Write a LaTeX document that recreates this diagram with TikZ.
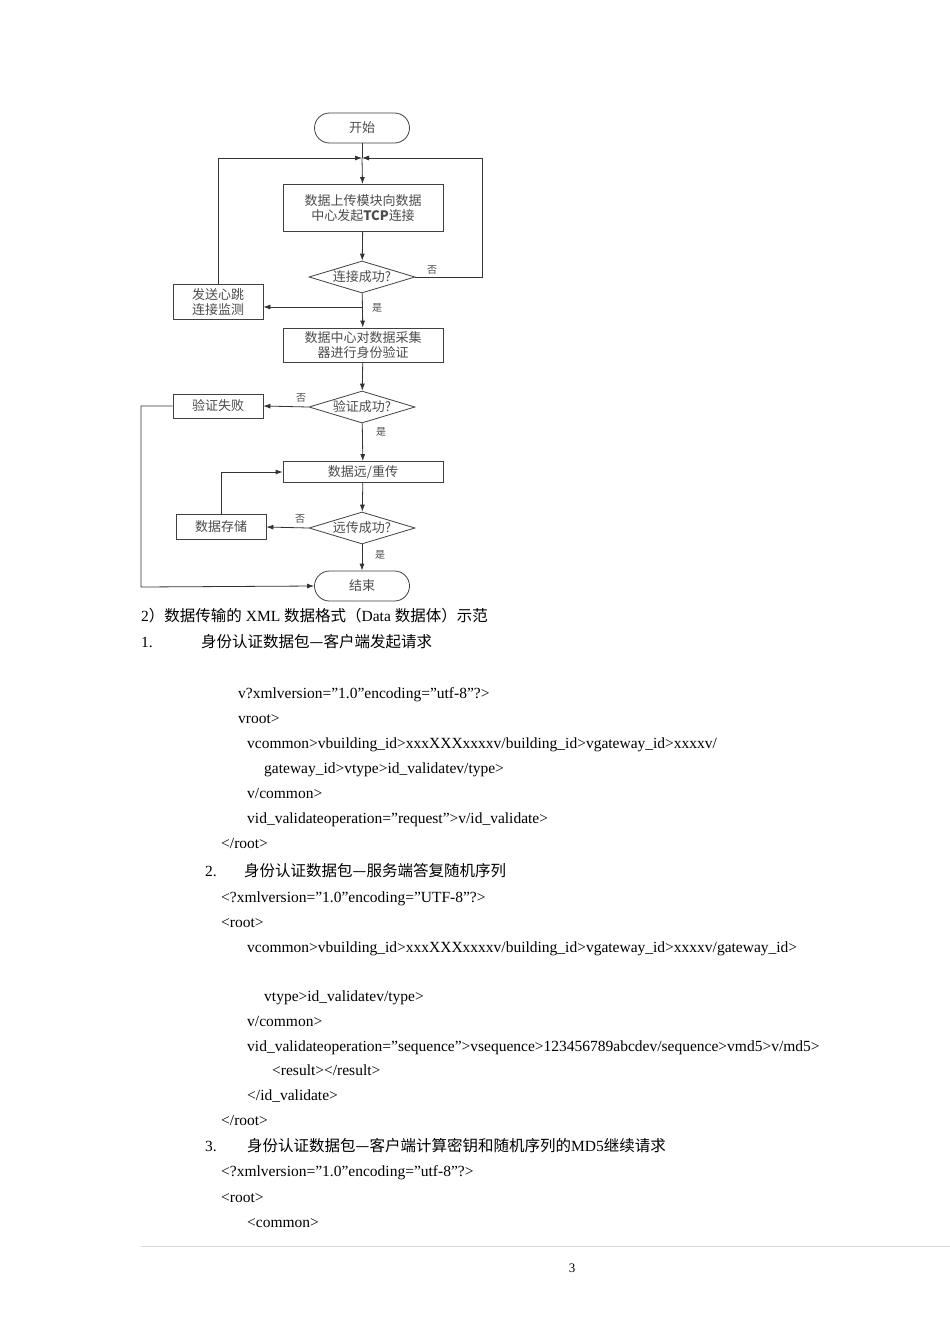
\documentclass[tikz,border=0pt]{standalone}
\usepackage{fontspec}
\setmainfont{Liberation Serif}
\newfontfamily\cjk{Noto Sans CJK SC}
\usetikzlibrary{shapes.geometric,shapes.misc,arrows.meta}
\begin{document}
\begin{tikzpicture}[x=1pt,y=-1pt,
  fc/.style={draw=black!75,line width=0.8pt,font=\cjk\fontsize{13}{15}\selectfont,text=black!70,align=center,inner sep=0pt},
  proc/.style={fc,rectangle,minimum width=160,minimum height=#1},
  side/.style={fc,rectangle,minimum width=90,minimum height=#1},
  term/.style={fc,rounded rectangle,minimum width=95,minimum height=30},
  dec/.style={fc,diamond,aspect=3.3,minimum width=106,minimum height=32},
  ar/.style={draw=black!80,line width=0.8pt,-{Latex[length=7pt,width=5pt]}},
  ln/.style={draw=black!80,line width=0.8pt},
  lab/.style={font=\cjk\fontsize{10}{12}\selectfont,text=black!70},
  tx/.style={anchor=base west,font=\fontsize{15.5}{18}\selectfont,inner sep=0pt}]
\useasboundingbox[fill=white] (0,0) rectangle (950,1344);
% flowchart
\node[term] (start) at (362,128) {开始};
\coordinate (m) at (362,158);
\node[proc=47] (b1) at (363,208) {数据上传模块向数据\\中心发起\textbf{TCP}连接};
\node[dec] (d1) at (362,277) {连接成功?};
\node[side=35] (hb) at (218,302) {发送心跳\\连接监测};
\node[proc=34] (b2) at (363,345) {数据中心对数据采集\\器进行身份验证};
\node[dec] (d2) at (362,407) {验证成功?};
\node[side=24] (fail) at (218,406) {验证失败};
\node[proc=21] (b3) at (363,472) {数据远/重传};
\node[dec] (d3) at (362,528) {远传成功?};
\node[side=25] (store) at (221,527) {数据存储};
\node[term] (end) at (362,586) {结束};
\draw[ln] (start) -- (m);
\draw[ar] (m) -- (b1);
\draw[ar] (b1) -- (d1);
\draw[ar] (d1) -- (b2);
\coordinate (br) at (362,307);
\draw[ar] (br) -- (hb.east |- br);
\draw[ar] (hb.north) |- (m);
\draw[ar] (d1.east) -| (482,158) -- (m);
\draw[ar] (b2) -- (d2);
\draw[ar] (d2.west) -- (fail.east);
\draw[ar] (fail.west) -| (141,587) -- (end.west);
\draw[ar] (d2) -- (b3);
\draw[ar] (b3) -- (d3);
\draw[ar] (d3.west) -- (store.east);
\draw[ar] (store.north) |- (b3.west);
\draw[ar] (d3) -- (end);
\node[lab] (n1) at (432,270) {否};
\node[lab] (y1) at (377,308) {是};
\node[lab] (n2) at (301,398) {否};
\node[lab] (y2) at (381,432) {是};
\node[lab] (n3) at (300,519) {否};
\node[lab] (y3) at (380,555) {是};
% text
\node[tx] (t1) at (141,621) {2{\cjk ）数据传输的} XML {\cjk 数据格式（}Data {\cjk 数据体）示范}};
\node[tx] (t2) at (141,647) {1.};
\node[tx] (t3) at (201,647) {\cjk 身份认证数据包—客户端发起请求};
\node[tx] (t4) at (238,698) {v?xmlversion="1.0"encoding="utf-8"?>};
\node[tx] (t5) at (238,723) {vroot>};
\node[tx] (t6) at (247,748) {vcommon>vbuilding\_id>xxxXXXxxxxv/building\_id>vgateway\_id>xxxxv/};
\node[tx] (t7) at (264,773) {gateway\_id>vtype>id\_validatev/type>};
\node[tx] (t8) at (247,798) {v/common>};
\node[tx] (t9) at (247,823) {vid\_validateoperation="request">v/id\_validate>};
\node[tx] (t10) at (221,848) {</root>};
\node[tx] (t11) at (205,876) {2.};
\node[tx] (t12) at (244,876) {\cjk 身份认证数据包—服务端答复随机序列};
\node[tx] (t13) at (221,902) {<?xmlversion="1.0"encoding="UTF-8"?>};
\node[tx] (t14) at (221,927) {<root>};
\node[tx] (t15) at (247,952) {vcommon>vbuilding\_id>xxxXXXxxxxv/building\_id>vgateway\_id>xxxxv/gateway\_id>};
\node[tx] (t16) at (264,1001) {vtype>id\_validatev/type>};
\node[tx] (t17) at (247,1026) {v/common>};
\node[tx] (t18) at (247,1051) {vid\_validateoperation="sequence">vsequence>123456789abcdev/sequence>vmd5>v/md5>};
\node[tx] (t19) at (272,1075) {<result></result>};
\node[tx] (t20) at (247,1100) {</id\_validate>};
\node[tx] (t21) at (221,1125) {</root>};
\node[tx] (t22) at (205,1151) {3.};
\node[tx] (t23) at (247,1151) {{\cjk 身份认证数据包—客户端计算密钥和随机序列的}MD5{\cjk 继续请求}};
\node[tx] (t24) at (221,1176) {<?xmlversion="1.0"encoding="utf-8"?>};
\node[tx] (t25) at (221,1202) {<root>};
\node[tx] (t26) at (247,1227) {<common>};
\draw[black!15,line width=0.8pt] (141,1246) -- (950,1246);
\node[font=\fontsize{13}{15}\selectfont] (pg) at (572,1268) {3};
\end{tikzpicture}
\end{document}
